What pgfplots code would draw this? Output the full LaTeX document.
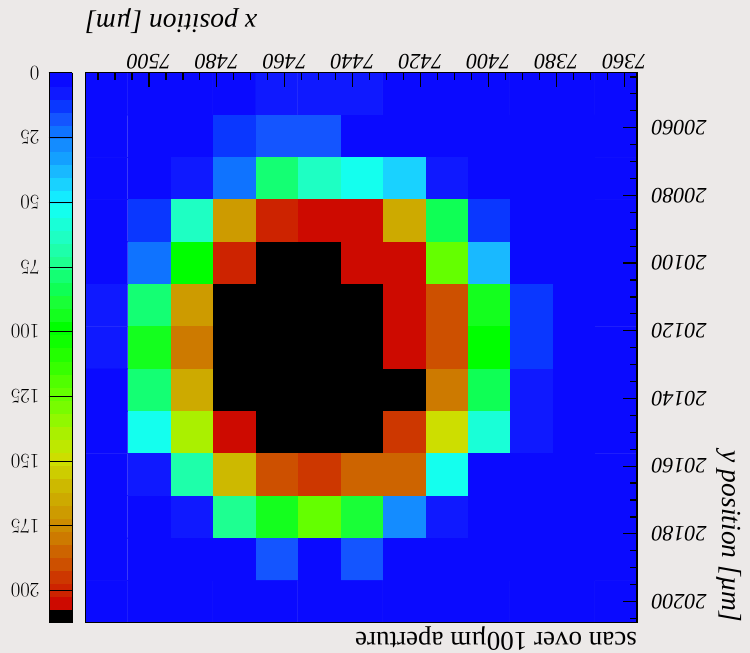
\documentclass[border=0pt]{standalone}
\usepackage{fontspec}
\setmainfont{Liberation Serif}
\usepackage{pgfplots}
\pgfplotsset{compat=1.18}
\definecolor{bgc}{RGB}{236,233,232}
\pgfplotsset{colormap={rootpal}{
rgb255=(10,10,255) rgb255=(15,25,255) rgb255=(10,55,255) rgb255=(20,85,255) rgb255=(15,115,255)
rgb255=(20,140,255) rgb255=(20,160,255) rgb255=(25,185,255) rgb255=(25,210,255) rgb255=(20,235,255)
rgb255=(20,255,238) rgb255=(25,255,215) rgb255=(30,255,195) rgb255=(30,255,170) rgb255=(30,255,145)
rgb255=(20,255,115) rgb255=(15,255,85) rgb255=(25,255,55) rgb255=(20,255,30) rgb255=(0,255,0)
rgb255=(15,255,0) rgb255=(35,255,0) rgb255=(55,255,0) rgb255=(80,255,0) rgb255=(100,255,0)
rgb255=(120,252,0) rgb255=(145,248,0) rgb255=(170,240,0) rgb255=(190,232,0) rgb255=(205,222,0)
rgb255=(205,205,0) rgb255=(205,185,0) rgb255=(205,170,0) rgb255=(205,155,0) rgb255=(205,140,0)
rgb255=(205,122,0) rgb255=(205,100,0) rgb255=(205,80,0) rgb255=(205,55,0) rgb255=(205,35,0)
rgb255=(205,10,0) rgb255=(0,0,0)}}
\begin{document}
\begin{tikzpicture}
\path[use as bounding box, fill=bgc] (0,0) rectangle (750pt,653pt);
\begin{axis}[
 at={(361.15pt,305.3pt)}, anchor=center,
 scale only axis, width=551.7pt, height=550pt,
 x dir=reverse, y dir=reverse,
 xmin=7356.25, xmax=7518.75, ymin=20043.75, ymax=20206.25,
 axis on top,
 scaled ticks=false,
 xtick={7360,7380,...,7500}, ytick={20060,20080,...,20200},
 minor xtick={7360,7365,...,7515}, minor ytick={20045,20050,...,20205},
 tick align=inside,
 xtick pos=right, ytick pos=right,
 xticklabel pos=right, yticklabel pos=right,
 major tick length=14pt, minor tick length=7pt,
 tick style={black, line width=1.2pt},
 axis line style={black, line width=1.2pt},
 /pgf/number format/1000 sep={},
 /pgf/number format/assume math mode=true,
 ticklabel style={font=\fontsize{22}{22}\selectfont\itshape},
 xticklabel style={rotate=180, anchor=north},
 yticklabel style={rotate=180, anchor=east, xshift=-11pt},
 colormap name=rootpal, colormap access=piecewise constant,
 point meta min=0, point meta max=212.4,
 colorbar left,
 colorbar style={
   at={(parent axis.center)}, anchor=center, xshift=-292pt,
   scale only axis, width=23.4pt, height=550pt,
   y dir=reverse, scaled ticks=false,
   ytick={0,25,...,200},
   major tick length=23.4pt, tick align=inside,
   yticklabel pos=left,
   yticklabel style={rotate=180, anchor=west, xshift=6pt, font=\fontsize{22}{22}\selectfont\itshape},
   axis line style={black, line width=0.8pt},
   tick style={black, line width=0.8pt},
 },
]
\addplot[matrix plot*, mesh/cols=13, point meta=explicit] table[meta=z] {
x y z
7362.5 20050 2.5
7375 20050 2.5
7387.5 20050 2.5
7400 20050 2.5
7412.5 20050 2.5
7425 20050 2.5
7437.5 20050 7.6
7450 20050 7.6
7462.5 20050 7.6
7475 20050 2.5
7487.5 20050 2.5
7500 20050 2.5
7512.5 20050 2.5
7362.5 20062.5 2.5
7375 20062.5 2.5
7387.5 20062.5 2.5
7400 20062.5 2.5
7412.5 20062.5 2.5
7425 20062.5 2.5
7437.5 20062.5 2.5
7450 20062.5 17.7
7462.5 20062.5 17.7
7475 20062.5 12.6
7487.5 20062.5 2.5
7500 20062.5 2.5
7512.5 20062.5 2.5
7362.5 20075 2.5
7375 20075 2.5
7387.5 20075 2.5
7400 20075 2.5
7412.5 20075 7.6
7425 20075 43.0
7437.5 20075 53.1
7450 20075 63.2
7462.5 20075 78.4
7475 20075 22.8
7487.5 20075 7.6
7500 20075 2.5
7512.5 20075 2.5
7362.5 20087.5 2.5
7375 20087.5 2.5
7387.5 20087.5 2.5
7400 20087.5 12.6
7412.5 20087.5 83.4
7425 20087.5 164.3
7437.5 20087.5 204.8
7450 20087.5 204.8
7462.5 20087.5 199.7
7475 20087.5 169.4
7487.5 20087.5 63.2
7500 20087.5 12.6
7512.5 20087.5 2.5
7362.5 20100 2.5
7375 20100 2.5
7387.5 20100 2.5
7400 20100 37.9
7412.5 20100 123.9
7425 20100 204.8
7437.5 20100 204.8
7450 20100 209.9
7462.5 20100 209.9
7475 20100 199.7
7487.5 20100 98.6
7500 20100 22.8
7512.5 20100 2.5
7362.5 20112.5 2.5
7375 20112.5 2.5
7387.5 20112.5 12.6
7400 20112.5 93.6
7412.5 20112.5 189.6
7425 20112.5 204.8
7437.5 20112.5 209.9
7450 20112.5 209.9
7462.5 20112.5 209.9
7475 20112.5 209.9
7487.5 20112.5 169.4
7500 20112.5 78.4
7512.5 20112.5 7.6
7362.5 20125 2.5
7375 20125 2.5
7387.5 20125 12.6
7400 20125 98.6
7412.5 20125 189.6
7425 20125 204.8
7437.5 20125 209.9
7450 20125 209.9
7462.5 20125 209.9
7475 20125 209.9
7487.5 20125 179.5
7500 20125 93.6
7512.5 20125 7.6
7362.5 20137.5 2.5
7375 20137.5 2.5
7387.5 20137.5 7.6
7400 20137.5 83.4
7412.5 20137.5 179.5
7425 20137.5 209.9
7437.5 20137.5 209.9
7450 20137.5 209.9
7462.5 20137.5 209.9
7475 20137.5 209.9
7487.5 20137.5 164.3
7500 20137.5 78.4
7512.5 20137.5 2.5
7362.5 20150 2.5
7375 20150 2.5
7387.5 20150 7.6
7400 20150 58.1
7412.5 20150 149.2
7425 20150 194.7
7437.5 20150 209.9
7450 20150 209.9
7462.5 20150 209.9
7475 20150 204.8
7487.5 20150 139.1
7500 20150 53.1
7512.5 20150 2.5
7362.5 20162.5 2.5
7375 20162.5 2.5
7387.5 20162.5 2.5
7400 20162.5 2.5
7412.5 20162.5 53.1
7425 20162.5 184.6
7437.5 20162.5 184.6
7450 20162.5 194.7
7462.5 20162.5 189.6
7475 20162.5 159.3
7487.5 20162.5 68.3
7500 20162.5 7.6
7512.5 20162.5 2.5
7362.5 20175 2.5
7375 20175 2.5
7387.5 20175 2.5
7400 20175 2.5
7412.5 20175 7.6
7425 20175 27.8
7437.5 20175 88.5
7450 20175 123.9
7462.5 20175 93.6
7475 20175 73.3
7487.5 20175 7.6
7500 20175 2.5
7512.5 20175 2.5
7362.5 20187.5 2.5
7375 20187.5 2.5
7387.5 20187.5 2.5
7400 20187.5 2.5
7412.5 20187.5 2.5
7425 20187.5 2.5
7437.5 20187.5 17.7
7450 20187.5 2.5
7462.5 20187.5 17.7
7475 20187.5 2.5
7487.5 20187.5 2.5
7500 20187.5 2.5
7512.5 20187.5 2.5
7362.5 20200 2.5
7375 20200 2.5
7387.5 20200 2.5
7400 20200 2.5
7412.5 20200 2.5
7425 20200 2.5
7437.5 20200 2.5
7450 20200 2.5
7462.5 20200 2.5
7475 20200 2.5
7487.5 20200 2.5
7500 20200 2.5
7512.5 20200 2.5
};
\end{axis}
\node[rotate=180, anchor=east, inner sep=0pt, font=\fontsize{27.5}{27.5}\selectfont\itshape] at (85pt,632pt) {x position [µm]};
\node[rotate=-90, anchor=east, inner sep=0pt, font=\fontsize{27.5}{27.5}\selectfont\itshape] at (729pt,30.3pt) {y position [µm]};
\node[rotate=180, anchor=west, inner sep=0pt, font=\fontsize{27}{27}\selectfont] at (637pt,14pt) {scan over 100µm aperture};
\end{tikzpicture}
\end{document}
